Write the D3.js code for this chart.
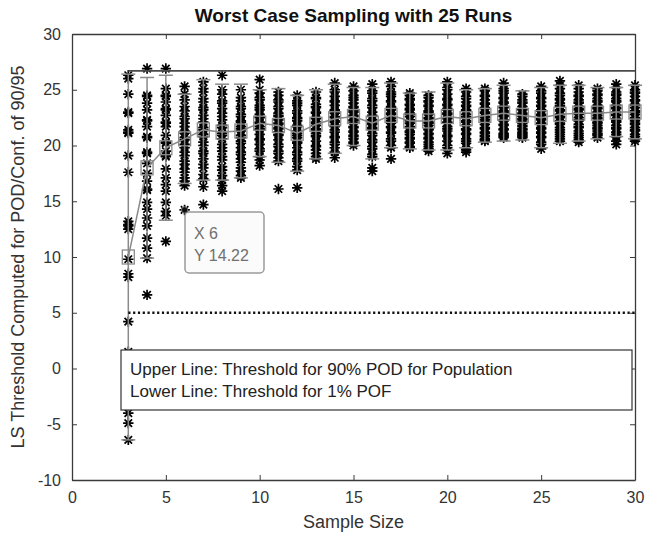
<!DOCTYPE html>
<html>
<head>
<meta charset="utf-8">
<script src="https://cdn.jsdelivr.net/npm/d3@7"></script>
<style>
  body { margin: 0; background: #fff; }
  text { font-family: "Liberation Sans", Arial, sans-serif; }
</style>
</head>
<body>
<svg id="chart" width="645" height="535"></svg>
<script>
var sampleSizes = [3, 4, 5, 6, 7, 8, 9, 10, 11, 12, 13, 14, 15, 16, 17, 18, 19, 20, 21, 22, 23, 24, 25, 26, 27, 28, 29, 30];

// 25 runs per sample size
var runValues = [
    [26.3, 26.0, 24.6, 23.0, 22.9, 21.4, 21.1, 19.1, 17.6, 13.2, 12.9, 12.5, 9.8, 8.5, 8.2, 4.2, 1.5, 0.4, -1.2, -2.7, -4.0, -4.9, -6.4, 21.2, 12.8],
    [26.9, 24.5, 24.4, 23.8, 23.2, 22.3, 22.2, 21.7, 20.8, 20.7, 19.4, 19.3, 18.4, 17.5, 16.8, 16.1, 16.0, 14.9, 14.3, 13.5, 12.8, 11.7, 10.8, 9.9, 6.6],
    [26.9, 25.1, 24.5, 24.4, 23.9, 23.3, 23.2, 22.7, 22.1, 22.0, 21.7, 20.9, 20.3, 20.2, 19.5, 19.1, 19.0, 17.9, 17.1, 16.5, 15.9, 14.9, 14.1, 13.7, 11.4],
    [25.3, 24.6, 24.1, 23.5, 23.1, 22.6, 22.4, 22.0, 21.7, 21.3, 21.1, 20.7, 20.5, 20.1, 19.8, 19.4, 19.1, 18.6, 18.3, 17.9, 17.6, 17.1, 16.8, 16.4, 14.22],
    [25.7, 25.1, 24.8, 24.2, 23.9, 23.4, 23.2, 22.7, 22.4, 22.1, 21.6, 21.4, 21.0, 20.8, 20.3, 20.0, 19.5, 19.3, 18.8, 18.3, 18.0, 17.4, 17.0, 16.3, 14.7],
    [26.3, 25.0, 24.6, 24.0, 23.8, 23.3, 22.9, 22.6, 22.3, 21.8, 21.6, 21.1, 20.9, 20.6, 20.1, 19.8, 19.5, 19.0, 18.7, 18.1, 17.8, 17.3, 16.9, 16.4, 15.9],
    [25.0, 24.3, 24.0, 23.5, 23.3, 22.8, 22.6, 22.2, 22.1, 21.7, 21.5, 21.3, 20.9, 20.7, 20.4, 20.2, 19.8, 19.4, 19.2, 18.8, 18.5, 18.0, 17.7, 17.3, 17.1],
    [25.9, 25.0, 24.7, 24.3, 24.1, 23.6, 23.4, 23.2, 22.8, 22.6, 22.5, 22.1, 22.0, 21.7, 21.5, 21.4, 21.0, 20.6, 20.5, 20.1, 19.7, 19.5, 19.0, 18.7, 18.2],
    [24.8, 24.5, 24.1, 23.9, 23.5, 23.3, 22.9, 22.7, 22.6, 22.3, 22.0, 21.9, 21.6, 21.5, 21.2, 21.0, 20.9, 20.5, 20.1, 19.9, 19.5, 19.3, 18.9, 18.6, 16.1],
    [24.5, 24.0, 23.8, 23.6, 23.1, 22.9, 22.5, 22.4, 22.2, 21.8, 21.7, 21.3, 21.1, 20.9, 20.7, 20.3, 20.2, 19.8, 19.4, 19.2, 18.8, 18.6, 18.1, 17.8, 16.2],
    [24.8, 24.3, 24.2, 23.7, 23.5, 23.4, 23.0, 22.9, 22.5, 22.4, 22.1, 22.0, 21.8, 21.5, 21.4, 21.1, 20.9, 20.8, 20.4, 20.0, 19.9, 19.6, 19.3, 19.0, 18.8],
    [25.6, 25.0, 24.8, 24.4, 24.0, 23.9, 23.6, 23.2, 23.1, 22.9, 22.6, 22.5, 22.2, 22.1, 21.8, 21.7, 21.4, 21.2, 20.8, 20.7, 20.3, 20.1, 19.8, 19.4, 18.9],
    [25.3, 24.9, 24.5, 24.3, 24.1, 23.8, 23.5, 23.4, 23.1, 23.0, 22.7, 22.6, 22.3, 22.2, 22.0, 21.7, 21.6, 21.3, 21.2, 20.9, 20.8, 20.6, 20.3, 20.2, 20.0],
    [25.5, 24.9, 24.7, 24.2, 24.0, 23.6, 23.4, 23.0, 22.7, 22.6, 22.3, 22.0, 21.9, 21.6, 21.5, 21.1, 20.9, 20.5, 20.3, 19.9, 19.7, 19.2, 19.0, 18.0, 17.7],
    [25.7, 25.3, 24.8, 24.6, 24.4, 24.0, 23.9, 23.5, 23.4, 23.2, 22.9, 22.8, 22.5, 22.4, 22.2, 22.0, 21.7, 21.6, 21.2, 21.1, 20.6, 20.4, 20.0, 19.8, 18.8],
    [24.7, 24.5, 24.2, 24.1, 23.7, 23.6, 23.3, 23.2, 22.9, 22.8, 22.6, 22.3, 22.2, 22.0, 21.7, 21.6, 21.3, 21.2, 21.0, 20.7, 20.6, 20.3, 20.2, 19.9, 19.8],
    [24.5, 24.3, 24.0, 23.9, 23.6, 23.5, 23.1, 23.0, 22.8, 22.5, 22.4, 22.1, 22.0, 21.8, 21.5, 21.4, 21.1, 21.0, 20.7, 20.6, 20.3, 20.1, 19.9, 19.7, 19.5],
    [25.7, 25.2, 25.0, 24.6, 24.2, 24.1, 23.7, 23.6, 23.3, 23.2, 22.9, 22.8, 22.5, 22.4, 22.1, 22.0, 21.7, 21.5, 21.3, 20.9, 20.8, 20.4, 20.0, 19.8, 19.3],
    [25.1, 24.8, 24.4, 24.2, 23.9, 23.6, 23.5, 23.2, 23.1, 22.8, 22.6, 22.5, 22.2, 22.1, 21.8, 21.5, 21.4, 21.1, 21.0, 20.6, 20.4, 20.2, 19.8, 19.6, 19.4],
    [25.1, 24.9, 24.5, 24.4, 24.1, 23.8, 23.7, 23.4, 23.3, 23.0, 22.9, 22.6, 22.5, 22.3, 22.1, 21.9, 21.6, 21.5, 21.2, 21.1, 20.9, 20.8, 20.6, 20.5, 20.4],
    [25.6, 25.1, 24.9, 24.7, 24.3, 24.2, 23.9, 23.8, 23.5, 23.4, 23.1, 23.0, 22.7, 22.6, 22.3, 22.2, 21.9, 21.8, 21.5, 21.4, 21.1, 21.0, 20.9, 20.8, 20.7],
    [24.6, 24.4, 24.1, 23.9, 23.8, 23.5, 23.3, 23.2, 22.9, 22.8, 22.6, 22.4, 22.3, 22.1, 22.0, 21.8, 21.7, 21.5, 21.4, 21.2, 21.1, 21.0, 20.9, 20.8, 20.7],
    [25.3, 24.9, 24.7, 24.3, 24.2, 23.9, 23.6, 23.5, 23.2, 23.1, 22.8, 22.7, 22.4, 22.3, 22.0, 21.9, 21.6, 21.5, 21.2, 21.1, 20.8, 20.7, 20.3, 20.1, 19.7],
    [25.8, 25.4, 25.1, 24.7, 24.5, 24.2, 24.1, 23.8, 23.6, 23.5, 23.2, 23.1, 22.8, 22.6, 22.5, 22.2, 22.0, 21.9, 21.6, 21.4, 21.2, 21.0, 20.8, 20.6, 20.4],
    [25.4, 25.1, 24.8, 24.5, 24.4, 24.1, 23.9, 23.8, 23.5, 23.3, 23.2, 22.9, 22.8, 22.5, 22.3, 22.2, 21.9, 21.7, 21.6, 21.3, 21.1, 20.9, 20.7, 20.5, 20.3],
    [25.1, 24.9, 24.6, 24.5, 24.2, 24.0, 23.9, 23.6, 23.4, 23.3, 23.0, 22.9, 22.7, 22.5, 22.4, 22.1, 22.0, 21.8, 21.6, 21.5, 21.3, 21.1, 21.0, 20.9, 20.7],
    [25.5, 25.2, 24.8, 24.6, 24.5, 24.2, 24.0, 23.9, 23.6, 23.4, 23.3, 23.0, 22.8, 22.7, 22.4, 22.2, 22.1, 21.8, 21.6, 21.5, 21.2, 21.0, 20.8, 20.4, 20.1],
    [25.4, 25.0, 24.8, 24.7, 24.4, 24.1, 24.0, 23.7, 23.6, 23.4, 23.1, 23.0, 22.8, 22.5, 22.4, 22.2, 22.0, 21.9, 21.6, 21.4, 21.3, 21.0, 20.8, 20.6, 20.4]
];

var meanValues = [10.0, 18.0, 19.8, 20.6, 21.4, 21.2, 21.3, 22.0, 21.8, 21.1, 21.9, 22.4, 22.6, 22.0,
    22.7, 22.2, 22.2, 22.6, 22.4, 22.7, 22.9, 22.7, 22.5, 22.8, 22.9, 22.9, 23.0, 23.0];
var errHalf = [16.4, 8.1, 6.5, 4.0, 4.5, 4.3, 4.2, 3.0, 3.3, 3.4, 3.1, 3.1, 2.6, 3.2,
    2.9, 2.5, 2.6, 3.0, 2.6, 2.4, 2.5, 2.2, 2.7, 2.6, 2.5, 2.3, 2.2, 2.4];

var upperThreshold = 26.7;
var lowerThreshold = 5;
var xTicks = [0, 5, 10, 15, 20, 25, 30];
var yTicks = [-10, -5, 0, 5, 10, 15, 20, 25, 30];
var tipX = 6, tipY = 14.22;

var svg = d3.select('#chart');
var mLeft = 72, mRight = 635, mTop = 34, mBottom = 480;

var x = d3.scaleLinear().domain([0, 30]).range([mLeft, mRight]);
var y = d3.scaleLinear().domain([-10, 30]).range([mBottom, mTop]);

var axisColor = '#3a3a3a';

// axes box with inward ticks
function styleAxis(g) {
    g.select('.domain').attr('stroke', axisColor).attr('stroke-width', 1.3);
    g.selectAll('.tick line').attr('stroke', axisColor).attr('stroke-width', 1);
    g.selectAll('.tick text').attr('fill', '#333').style('font-size', '16px')
        .style('font-family', '"Liberation Sans", Arial, sans-serif');
}

var plain = d => String(d);

svg.append('g')
    .attr('transform', 'translate(0,' + mBottom + ')')
    .call(d3.axisBottom(x).tickValues(xTicks).tickFormat(plain).tickSizeInner(-5).tickSizeOuter(0).tickPadding(12))
    .call(styleAxis);
svg.append('g')
    .attr('transform', 'translate(0,' + mTop + ')')
    .call(d3.axisTop(x).tickValues(xTicks).tickSizeInner(-5).tickSizeOuter(0).tickFormat(''))
    .call(styleAxis);
svg.append('g')
    .attr('transform', 'translate(' + mLeft + ',0)')
    .call(d3.axisLeft(y).tickValues(yTicks).tickFormat(plain).tickSizeInner(-5).tickSizeOuter(0).tickPadding(11))
    .call(styleAxis);
svg.append('g')
    .attr('transform', 'translate(' + mRight + ',0)')
    .call(d3.axisRight(y).tickValues(yTicks).tickSizeInner(-5).tickSizeOuter(0).tickFormat(''))
    .call(styleAxis);

// flatten runs into points
var points = [];
sampleSizes.forEach((n, i) => {
    runValues[i].forEach(v => points.push({ n: n, v: v }))
})

var r = 5.2, rd = r * 0.72;
var starPath = 'M' + (-r) + ',0L' + r + ',0M0,' + (-r) + 'L0,' + r +
    'M' + (-rd) + ',' + (-rd) + 'L' + rd + ',' + rd + 'M' + (-rd) + ',' + rd + 'L' + rd + ',' + (-rd);

svg.append('g').selectAll('path')
    .data(points)
    .enter().append('path')
    .attr('d', starPath)
    .attr('transform', d => 'translate(' + x(d.n) + ',' + y(d.v) + ')')
    .attr('fill', 'none')
    .attr('stroke', '#000')
    .attr('stroke-width', 1.7);

// error bars with mean squares
var errColor = '#8a8a8a';
var eb = svg.append('g').selectAll('g')
    .data(sampleSizes)
    .enter().append('g');
eb.append('line')
    .attr('x1', d => x(d)).attr('x2', d => x(d))
    .attr('y1', (d, i) => y(meanValues[i] + errHalf[i]))
    .attr('y2', (d, i) => y(meanValues[i] - errHalf[i]))
    .attr('stroke', errColor).attr('stroke-width', 1.5);
eb.append('line')
    .attr('x1', d => x(d) - 7).attr('x2', d => x(d) + 7)
    .attr('y1', (d, i) => y(meanValues[i] + errHalf[i]))
    .attr('y2', (d, i) => y(meanValues[i] + errHalf[i]))
    .attr('stroke', errColor).attr('stroke-width', 1.5);
eb.append('line')
    .attr('x1', d => x(d) - 7).attr('x2', d => x(d) + 7)
    .attr('y1', (d, i) => y(meanValues[i] - errHalf[i]))
    .attr('y2', (d, i) => y(meanValues[i] - errHalf[i]))
    .attr('stroke', errColor).attr('stroke-width', 1.5);

svg.append('path')
    .datum(sampleSizes)
    .attr('d', d3.line().x(d => x(d)).y((d, i) => y(meanValues[i])))
    .attr('fill', 'none')
    .attr('stroke', errColor)
    .attr('stroke-width', 1.5);

eb.append('rect')
    .attr('x', d => x(d) - 6).attr('y', (d, i) => y(meanValues[i]) - 7)
    .attr('width', 12).attr('height', 14)
    .attr('fill', 'none')
    .attr('stroke', errColor).attr('stroke-width', 1.3);

// threshold lines
svg.append('line')
    .attr('x1', x(3)).attr('x2', x(30))
    .attr('y1', y(upperThreshold)).attr('y2', y(upperThreshold))
    .attr('stroke', '#4a4a4a').attr('stroke-width', 1.8);
svg.append('line')
    .attr('x1', x(3)).attr('x2', x(30))
    .attr('y1', y(lowerThreshold)).attr('y2', y(lowerThreshold))
    .attr('stroke', '#111').attr('stroke-width', 2.6)
    .attr('stroke-dasharray', '2.2,2.6');

// annotation box
var note = svg.append('g');
note.append('rect')
    .attr('x', 121).attr('y', 350).attr('width', 511).attr('height', 60)
    .attr('fill', '#fff').attr('stroke', '#333').attr('stroke-width', 1.2);
note.selectAll('text')
    .data(['Upper Line: Threshold for 90% POD for Population', 'Lower Line: Threshold for 1% POF'])
    .enter().append('text')
    .attr('x', 130)
    .attr('y', (d, i) => 375 + i * 22)
    .attr('fill', '#222')
    .style('font-size', '17px')
    .text(d => d);

// data tip
var tip = svg.append('g');
tip.append('rect')
    .attr('x', 185).attr('y', 212).attr('width', 79).attr('height', 61).attr('rx', 4)
    .attr('fill', '#fbfbfb').attr('stroke', '#9a9a9a').attr('stroke-width', 1.5);
tip.append('circle')
    .attr('cx', x(tipX)).attr('cy', y(tipY)).attr('r', 3.2)
    .attr('fill', '#111').attr('stroke', '#777').attr('stroke-width', 1);
tip.selectAll('text')
    .data(['X ' + tipX, 'Y ' + tipY])
    .enter().append('text')
    .attr('x', 194)
    .attr('y', (d, i) => 239 + i * 22)
    .attr('fill', '#707070')
    .style('font-size', '16px')
    .text(d => d);

// titles
svg.append('text')
    .attr('x', (mLeft + mRight) / 2).attr('y', 22)
    .attr('text-anchor', 'middle')
    .attr('fill', '#111')
    .style('font-size', '19px').style('font-weight', 'bold')
    .text('Worst Case Sampling with 25 Runs');
svg.append('text')
    .attr('x', (mLeft + mRight) / 2).attr('y', 528)
    .attr('text-anchor', 'middle')
    .attr('fill', '#333')
    .style('font-size', '18px')
    .text('Sample Size');
svg.append('text')
    .attr('transform', 'translate(24,' + ((mTop + mBottom) / 2) + ') rotate(-90)')
    .attr('text-anchor', 'middle')
    .attr('fill', '#333')
    .style('font-size', '18px')
    .text('LS Threshold Computed for POD/Conf. of 90/95');
</script>
</body>
</html>
